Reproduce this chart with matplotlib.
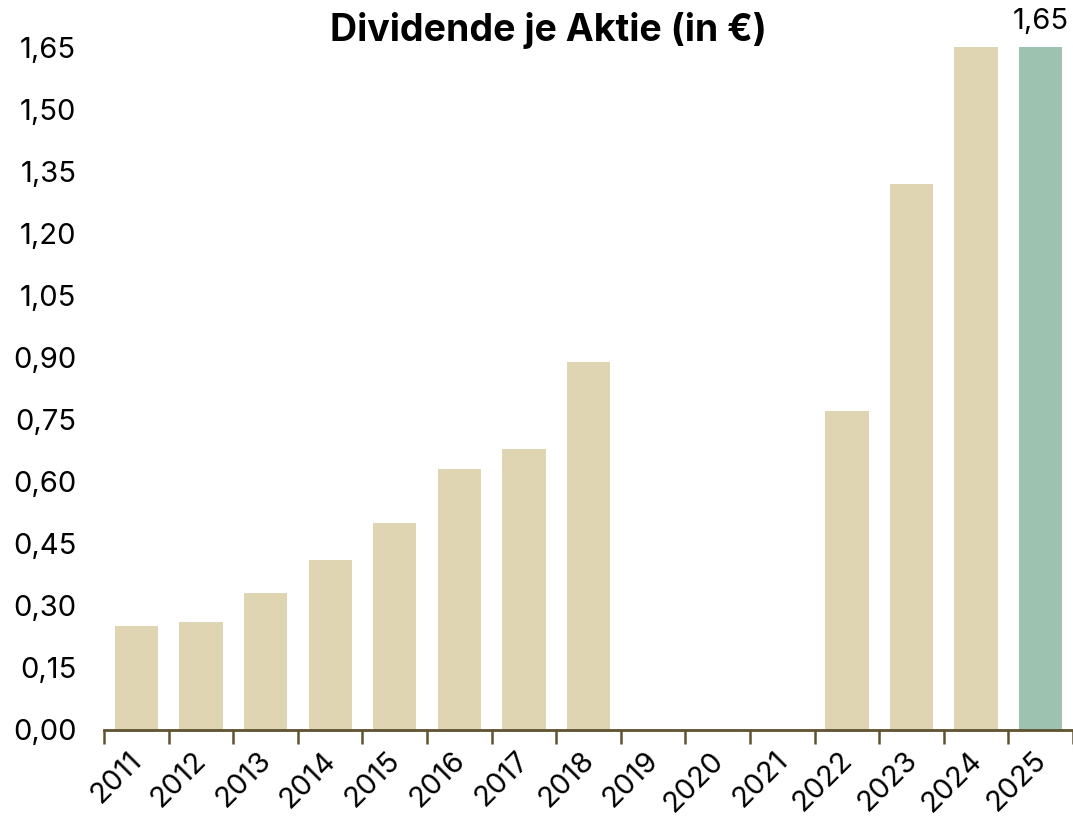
import matplotlib.pyplot as plt
import matplotlib.transforms as mtransforms
from matplotlib.ticker import FixedLocator, FuncFormatter

plt.rcParams["font.family"] = ["Inter", "DejaVu Sans"]

jahre = ["2011", "2012", "2013", "2014", "2015", "2016", "2017", "2018",
         "2019", "2020", "2021", "2022", "2023", "2024", "2025"]
dividende = [0.25, 0.26, 0.33, 0.41, 0.50, 0.63, 0.68, 0.89,
             0.0, 0.0, 0.0, 0.77, 1.32, 1.65, 1.65]
y_ticks = [0.00, 0.15, 0.30, 0.45, 0.60, 0.75, 0.90, 1.05, 1.20, 1.35, 1.50, 1.65]

beige = "#DFD5B3"
gruen = "#9DC3B0"
farben = [beige] * (len(jahre) - 1) + [gruen]

fig = plt.figure(figsize=(10.73, 8.19), dpi=100)
ax = fig.add_axes([0.097, 0.1087, 0.903, 0.8339])

x = list(range(len(jahre)))
ax.bar(x, dividende, width=0.67, color=farben, zorder=2)

ax.set_xlim(-0.5, len(jahre) - 0.5)
ax.set_ylim(0, 1.65)
ax.set_yticks(y_ticks)
ax.yaxis.set_major_formatter(FuncFormatter(lambda v, p: f"{v:.2f}".replace(".", ",")))

ax.set_xticks(x)
ax.set_xticklabels(jahre, rotation=45, ha="right", rotation_mode="anchor")
ax.xaxis.set_minor_locator(FixedLocator([i - 0.5 for i in range(len(jahre) + 1)]))
ax.tick_params(axis="x", which="major", length=0, pad=12, labelsize=21)
ax.tick_params(axis="x", which="minor", length=10, width=1.8, color="#5E5230", direction="out")
ax.tick_params(axis="y", length=0, pad=20, labelsize=21)

verschiebung = mtransforms.ScaledTranslation(-8 / 100, 0, fig.dpi_scale_trans)
for lbl in ax.get_xticklabels():
    lbl.set_transform(lbl.get_transform() + verschiebung)

for s in ["top", "right", "left"]:
    ax.spines[s].set_visible(False)
ax.spines["bottom"].set_color("#5E5230")
ax.spines["bottom"].set_linewidth(2)

# Wert über dem letzten Balken
ax.text(x[-1], dividende[-1] + 0.03, f"{dividende[-1]:.2f}".replace(".", ","),
        ha="center", va="bottom", fontsize=21)

fig.text(0.511, 0.963, "Dividende je Aktie (in €)", ha="center", va="center",
         fontsize=27, fontweight="bold")

fig.savefig("out.png", dpi=100)
